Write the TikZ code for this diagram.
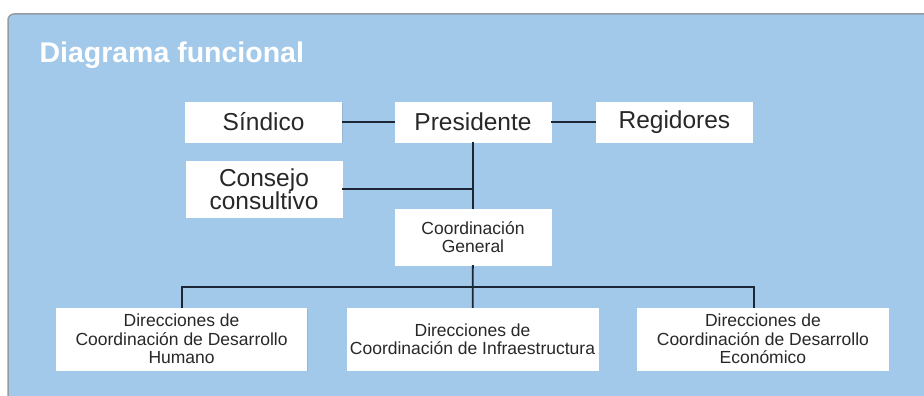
\documentclass[tikz,border=0pt]{standalone}
\usepackage{fontspec}
\setmainfont{Liberation Sans}
\usetikzlibrary{positioning,shadows}

\definecolor{panelblue}{RGB}{163,201,234}
\definecolor{panelline}{RGB}{150,155,160}
\definecolor{linkcolor}{RGB}{28,38,52}
\definecolor{textgray}{RGB}{40,40,40}

\begin{document}
\begin{tikzpicture}[
    x=1pt, y=1pt,
    box/.style={
        draw=white,
        fill=white,
        text=textgray,
        align=center,
        inner sep=2pt,
        drop shadow={shadow xshift=1pt, shadow yshift=-1pt, opacity=0.25}
    },
    bigbox/.style={
        box,
        minimum width=156pt,
        font=\fontsize{24.5}{23}\selectfont
    },
    smallbox/.style={
        box,
        font=\fontsize{17.5}{18.5}\selectfont
    },
    link/.style={draw=linkcolor, line width=1.8pt}
]
\useasboundingbox (0,0) rectangle (924,-396);

% panel
\draw[panelline, fill=panelblue, line width=1.5pt, rounded corners=6pt]
    (8,-410) -- (8,-14) -- (940,-14) [sharp corners] -- (940,-410) -- cycle;
\node[anchor=base west, text=white, font=\fontsize{28.5}{30}\selectfont\bfseries]
    (title) at (36,-63) {Diagrama funcional};

% top level
\node[bigbox, minimum height=40pt] (presidente) at (473,-122) {Presidente};
\node[bigbox, minimum height=40pt, left=53pt of presidente] (sindico) {Síndico};
\node[bigbox, minimum height=40pt, right=45pt of presidente] (regidores) {Regidores};

\node[bigbox, minimum height=56pt] (consejo) at (264,-189) {Consejo\\consultivo};
\node[smallbox, minimum width=156pt, minimum height=56pt] (coordinacion) at (473,-237)
    {Coordinación\\General};

% direcciones
\node[smallbox, minimum width=251pt, minimum height=62pt] (infra) at (472.5,-339)
    {Direcciones de\\Coordinación de Infraestructura};
\node[smallbox, minimum width=250pt, minimum height=62pt, left=40pt of infra] (humano)
    {Direcciones de\\Coordinación de Desarrollo\\Humano};
\node[smallbox, minimum width=251pt, minimum height=62pt, right=39pt of infra] (economico)
    {Direcciones de\\Coordinación de Desarrollo\\Económico};

\draw[link] (sindico) -- (presidente);
\draw[link] (presidente) -- (regidores);
\draw[link] (presidente) -- (coordinacion);
\draw[link] (consejo.east) -- (consejo.east -| presidente.south);
\draw[link] (coordinacion) -- (infra);
\draw[link] (humano.north) |- ([yshift=-22pt]coordinacion.south)
    -| ([xshift=-9pt]economico.north);
\end{tikzpicture}
\end{document}
